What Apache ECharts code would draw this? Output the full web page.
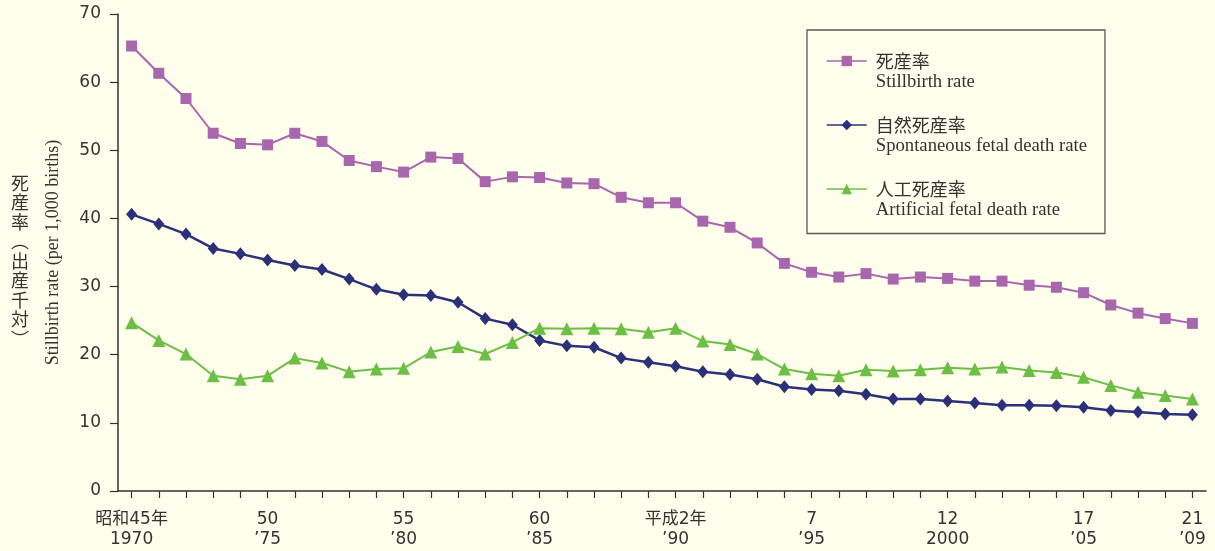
<!DOCTYPE html>
<html><head><meta charset="utf-8">
<script src="https://cdn.jsdelivr.net/npm/echarts@6/dist/echarts.min.js"></script>
<style>html,body{margin:0;padding:0;background:#fffdeb;}#c{width:1215px;height:551px;}</style>
</head><body><div id="c"></div>
<script>
const years = ['1970','1971','1972','1973','1974','1975','1976','1977','1978','1979',
  '1980','1981','1982','1983','1984','1985','1986','1987','1988','1989',
  '1990','1991','1992','1993','1994','1995','1996','1997','1998','1999',
  '2000','2001','2002','2003','2004','2005','2006','2007','2008','2009'];
const labelYears = ['1970','1975','1980','1985','1990','1995','2000','2005','2009'];
const labelTexts = ['昭和45年\n1970','50\n’75','55\n’80','60\n’85','平成2年\n’90','7\n’95','12\n2000','17\n’05','21\n’09'];
const stillbirth = [65.3,61.3,57.6,52.5,51.0,50.8,52.5,51.3,48.5,47.6,
  46.8,49.0,48.8,45.4,46.1,46.0,45.2,45.1,43.1,42.3,
  42.3,39.6,38.7,36.4,33.4,32.1,31.4,31.9,31.1,31.4,
  31.2,30.8,30.8,30.2,29.9,29.1,27.3,26.1,25.3,24.6];
const spontaneous = [40.6,39.2,37.7,35.6,34.8,33.9,33.1,32.5,31.1,29.6,
  28.8,28.7,27.7,25.3,24.4,22.1,21.3,21.1,19.5,18.9,
  18.3,17.5,17.1,16.4,15.3,14.9,14.7,14.2,13.5,13.5,
  13.2,12.9,12.6,12.6,12.5,12.3,11.8,11.6,11.3,11.2];
const artificial = [24.7,22.1,20.1,16.9,16.4,16.9,19.5,18.8,17.5,17.9,
  18.0,20.4,21.2,20.1,21.8,23.9,23.8,23.9,23.8,23.3,
  23.9,22.0,21.5,20.1,17.9,17.2,16.9,17.8,17.6,17.8,
  18.1,17.9,18.2,17.7,17.4,16.7,15.5,14.5,14.0,13.5];
const seriesNames = ['死産率','自然死産率','人工死産率'];
const seriesNamesEn = ['Stillbirth rate','Spontaneous fetal death rate','Artificial fetal death rate'];
const yMin = 0, yMax = 70, yStep = 10;

const chart = echarts.init(document.getElementById('c'));
const txt = '#333';
const sansFont = 'DejaVu Sans, Noto Sans CJK JP, sans-serif';
const enMap = {};
seriesNames.forEach((n,i)=>enMap[n]=seriesNamesEn[i]);

chart.setOption({
  backgroundColor: '#fffdeb',
  animation: false,
  grid: {left: 118, right: 9, top: 14, bottom: 60},
  xAxis: {
    type: 'category',
    data: years,
    boundaryGap: true,
    axisLine: {lineStyle: {color: '#333', width: 1.5}},
    axisTick: {show: true, alignWithLabel: true, interval: 0, length: 7, lineStyle: {color: '#333', width: 1.2}},
    axisLabel: {
      interval: (idx, val) => labelYears.indexOf(val) >= 0,
      formatter: (val) => labelTexts[labelYears.indexOf(val)],
      color: txt, fontSize: 17, lineHeight: 20, margin: 19, fontFamily: sansFont
    },
    splitLine: {show: false}
  },
  yAxis: {
    type: 'value', min: yMin, max: yMax, interval: yStep,
    axisLine: {show: true, lineStyle: {color: '#333', width: 1.5}},
    axisTick: {show: true, length: 8, lineStyle: {color: '#333', width: 1.2}},
    axisLabel: {color: txt, fontSize: 17, margin: 17, padding: [4, 0, 0, 0], fontFamily: sansFont},
    splitLine: {show: false},
    name: 'Stillbirth rate (per 1,000 births)',
    nameLocation: 'middle', nameRotate: 90, nameGap: 56,
    nameTextStyle: {color: txt, fontSize: 18, fontFamily: 'Liberation Serif, serif'}
  },
  legend: {
    orient: 'vertical',
    left: 807, top: 30,
    padding: [5, 18, 14, 19],
    itemGap: 7.5,
    itemWidth: 40, itemHeight: 13,
    borderColor: '#5a5a5a', borderWidth: 1.3,
    data: seriesNames,
    lineStyle: {width: 1.5},
    formatter: (n) => '{b| }\n{jp|' + n + '}\n{en|' + enMap[n] + '}',
    textStyle: {
      color: txt, padding: [0, 0, 0, 4],
      rich: {
        b: {fontSize: 10, lineHeight: 21},
        jp: {fontFamily: 'Noto Sans CJK JP', fontSize: 18, lineHeight: 21, color: txt},
        en: {fontFamily: 'Liberation Serif, serif', fontSize: 18.7, lineHeight: 21, color: txt}
      }
    }
  },
  graphic: [{
    type: 'text', left: 11, top: 173,
    style: {text: '死\n産\n率\n︵\n出\n産\n千\n対\n︶', fontFamily: 'Noto Sans CJK JP', fontSize: 18, lineHeight: 19.5, fill: txt}
  }],
  series: [
    {name: seriesNames[0], type: 'line', data: stillbirth, symbol: 'rect', symbolSize: 11,
     itemStyle: {color: '#a866ad'}, lineStyle: {color: '#a866ad', width: 2}},
    {name: seriesNames[1], type: 'line', data: spontaneous, symbol: 'diamond', symbolSize: [11, 13],
     itemStyle: {color: '#2b3178'}, lineStyle: {color: '#2b3178', width: 2.5}},
    {name: seriesNames[2], type: 'line', data: artificial, symbol: 'triangle', symbolSize: 13,
     itemStyle: {color: '#6dbe45'}, lineStyle: {color: '#6dbe45', width: 2}}
  ]
});
</script></body></html>
